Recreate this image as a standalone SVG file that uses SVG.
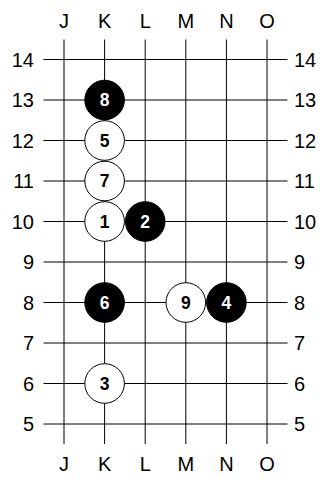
<svg xmlns="http://www.w3.org/2000/svg" width="322" height="478" viewBox="0 0 322 478">
<style>
.grid line{stroke:#000;stroke-width:1}
.lbl{font-family:"Liberation Sans",Arial,sans-serif;font-size:20px;fill:#000}
.w{fill:#fff;stroke:#000;stroke-width:1}
.b{fill:#000;stroke:#000;stroke-width:1}
.n{font-family:"Liberation Sans",Arial,sans-serif;font-size:17.5px;font-weight:bold;text-anchor:middle}
.nw{fill:#000}
.nb{fill:#fff}
</style>
<rect width="322" height="478" fill="#fff"/>
<g id="connectors" class="grid">
<line x1="43.5" y1="59.5" x2="287.5" y2="59.5"/>
<line x1="43.5" y1="100" x2="287.5" y2="100"/>
<line x1="43.5" y1="140.5" x2="287.5" y2="140.5"/>
<line x1="43.5" y1="181" x2="287.5" y2="181"/>
<line x1="43.5" y1="221.5" x2="287.5" y2="221.5"/>
<line x1="43.5" y1="262" x2="287.5" y2="262"/>
<line x1="43.5" y1="302.5" x2="287.5" y2="302.5"/>
<line x1="43.5" y1="343" x2="287.5" y2="343"/>
<line x1="43.5" y1="383.5" x2="287.5" y2="383.5"/>
<line x1="43.5" y1="424" x2="287.5" y2="424"/>
<line x1="64" y1="39.5" x2="64" y2="444"/>
<line x1="104.6" y1="39.5" x2="104.6" y2="444"/>
<line x1="145.2" y1="39.5" x2="145.2" y2="444"/>
<line x1="185.8" y1="39.5" x2="185.8" y2="444"/>
<line x1="226.4" y1="39.5" x2="226.4" y2="444"/>
<line x1="267" y1="39.5" x2="267" y2="444"/>
</g>
<g id="labels" class="lbl">
<text x="64" y="28" text-anchor="middle">J</text>
<text x="104.6" y="28" text-anchor="middle">K</text>
<text x="145.2" y="28" text-anchor="middle">L</text>
<text x="185.8" y="28" text-anchor="middle">M</text>
<text x="226.4" y="28" text-anchor="middle">N</text>
<text x="267" y="28" text-anchor="middle">O</text>
<text x="64" y="471" text-anchor="middle">J</text>
<text x="104.6" y="471" text-anchor="middle">K</text>
<text x="145.2" y="471" text-anchor="middle">L</text>
<text x="185.8" y="471" text-anchor="middle">M</text>
<text x="226.4" y="471" text-anchor="middle">N</text>
<text x="267" y="471" text-anchor="middle">O</text>
<g text-anchor="end">
<text x="34" y="66.7">14</text>
<text x="34" y="107.2">13</text>
<text x="34" y="147.7">12</text>
<text x="34" y="188.2">11</text>
<text x="34" y="228.7">10</text>
<text x="34" y="269.2">9</text>
<text x="34" y="309.7">8</text>
<text x="34" y="350.2">7</text>
<text x="34" y="390.7">6</text>
<text x="34" y="431.2">5</text>
</g>
<g text-anchor="start">
<text x="294" y="66.7">14</text>
<text x="294" y="107.2">13</text>
<text x="294" y="147.7">12</text>
<text x="294" y="188.2">11</text>
<text x="294" y="228.7">10</text>
<text x="294" y="269.2">9</text>
<text x="294" y="309.7">8</text>
<text x="294" y="350.2">7</text>
<text x="294" y="390.7">6</text>
<text x="294" y="431.2">5</text>
</g>
</g>
<g id="stone1"><circle class="w" cx="104.6" cy="221.5" r="19.8"/><text class="n nw" x="104.6" y="227.8">1</text></g>
<g id="stone2"><circle class="b" cx="145.2" cy="221.5" r="19.8"/><text class="n nb" x="145.2" y="227.8">2</text></g>
<g id="stone3"><circle class="w" cx="104.6" cy="383.5" r="19.8"/><text class="n nw" x="104.6" y="389.8">3</text></g>
<g id="stone4"><circle class="b" cx="226.4" cy="302.5" r="19.8"/><text class="n nb" x="226.4" y="308.8">4</text></g>
<g id="stone5"><circle class="w" cx="104.6" cy="140.5" r="19.8"/><text class="n nw" x="104.6" y="146.8">5</text></g>
<g id="stone6"><circle class="b" cx="104.6" cy="302.5" r="19.8"/><text class="n nb" x="104.6" y="308.8">6</text></g>
<g id="stone7"><circle class="w" cx="104.6" cy="181" r="19.8"/><text class="n nw" x="104.6" y="187.3">7</text></g>
<g id="stone8"><circle class="b" cx="104.6" cy="100" r="19.8"/><text class="n nb" x="104.6" y="106.3">8</text></g>
<g id="stone9"><circle class="w" cx="185.8" cy="302.5" r="19.8"/><text class="n nw" x="185.8" y="308.8">9</text></g>
</svg>
